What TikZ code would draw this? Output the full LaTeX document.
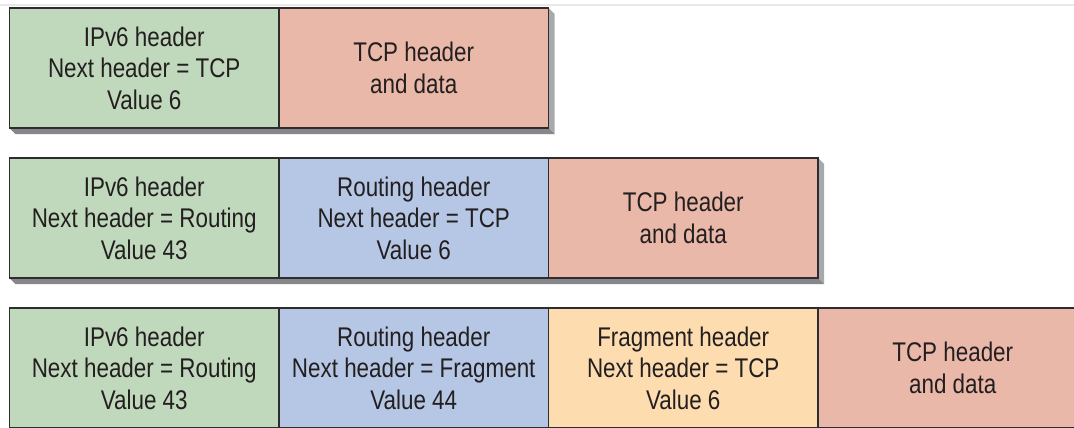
\documentclass[tikz,border=0pt]{standalone}
\usepackage{fontspec}
\setmainfont{Liberation Sans}[FakeStretch=0.83]
\definecolor{ipgreen}{HTML}{C0D8BB}
\definecolor{tcpsalmon}{HTML}{E9B8A9}
\definecolor{rtblue}{HTML}{B5C7E4}
\definecolor{frpeach}{HTML}{FDDCB0}
\definecolor{edge}{HTML}{2E2C2C}
\definecolor{txt}{HTML}{231F20}
\definecolor{shright}{HTML}{A7A9AC}
\definecolor{shbottom}{HTML}{85878A}
\tikzset{
  hdr/.style={draw=edge, line width=1.6pt, minimum width=269.5pt, minimum height=120pt,
    inner sep=0pt, outer sep=0pt, align=center, text=txt,
    font=\fontsize{27}{31.5}\selectfont, anchor=north west},
  shr/.style={fill=shright},
  shb/.style={fill=shbottom},
}
\begin{document}
\begin{tikzpicture}[x=1pt,y=-1pt]
\useasboundingbox (0,0) rectangle (1074,428);
\clip (0,0) rectangle (1074,428);
\fill[white] (0,0) rectangle (1074,428);
\draw[gray!18, line width=1.2pt] (0,5) -- (1074,5);
% shadows row 1
\fill[shr] (548.5,8) -- (554.5,14) -- (554.5,134) -- (548.5,128) -- cycle;
\fill[shb] (9.5,128) -- (15.5,134) -- (554.5,134) -- (548.5,128) -- cycle;
% shadows row 2
\fill[shr] (818,158) -- (824,164) -- (824,284) -- (818,278) -- cycle;
\fill[shb] (9.5,278) -- (15.5,284) -- (824,284) -- (818,278) -- cycle;
% row 1
\node[hdr, fill=ipgreen] (a1) at (9.5,8) {IPv6 header\\Next header = TCP\\Value 6};
\node[hdr, fill=tcpsalmon] (a2) at (a1.north east) {TCP header\\and data};
% row 2
\node[hdr, fill=ipgreen] (b1) at (9.5,158) {IPv6 header\\Next header = Routing\\Value 43};
\node[hdr, fill=rtblue] (b2) at (b1.north east) {Routing header\\Next header = TCP\\Value 6};
\node[hdr, fill=tcpsalmon] (b3) at (b2.north east) {TCP header\\and data};
% row 3
\node[hdr, fill=ipgreen] (c1) at (9.5,308) {IPv6 header\\Next header = Routing\\Value 43};
\node[hdr, fill=rtblue] (c2) at (c1.north east) {Routing header\\Next header = Fragment\\Value 44};
\node[hdr, fill=frpeach] (c3) at (c2.north east) {Fragment header\\Next header = TCP\\Value 6};
\node[hdr, fill=tcpsalmon] (c4) at (c3.north east) {TCP header\\and data};
\end{tikzpicture}
\end{document}
